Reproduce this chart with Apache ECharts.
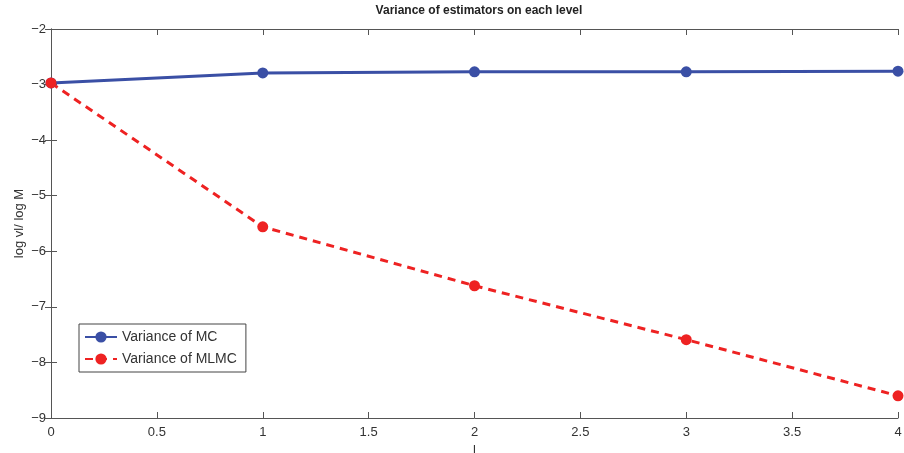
<!DOCTYPE html>
<html>
<head>
<meta charset="utf-8">
<script src="https://cdn.jsdelivr.net/npm/echarts@6/dist/echarts.min.js"></script>
<style>
  html, body { margin: 0; padding: 0; background: #fff; }
  #main { width: 904px; height: 453px; }
</style>
</head>
<body>
<div id="main"></div>
<script>
// levels l and log-variance per level
var levels = [0, 1, 2, 3, 4];
var mcVar = [-2.97, -2.79, -2.77, -2.77, -2.76];
var mlmcVar = [-2.97, -5.56, -6.62, -7.59, -8.60];

var font = 'Liberation Sans, Arial, sans-serif';
var axisCol = '#555';

function pairs(ys) {
  return levels.map(function (x, i) { return [x, ys[i]]; });
}

var myChart = echarts.init(document.getElementById('main'));
myChart.setOption({
  animation: false,
  title: {
    text: 'Variance of estimators on each level',
    left: 474, top: 0, textAlign: 'center',
    textStyle: { fontFamily: font, fontSize: 12, fontWeight: 'bold', color: '#222' }
  },
  grid: { left: 51, right: 6, top: 29, bottom: 35, outerBoundsMode: 'none' },
  legend: {
    left: 79, top: 324, orient: 'vertical',
    backgroundColor: '#fff', borderColor: '#444', borderWidth: 1, borderRadius: 0,
    padding: [6, 9, 6, 5], itemGap: 8, itemWidth: 32, itemHeight: 14,
    textStyle: { fontFamily: font, fontSize: 14, color: '#333' },
    data: ['Variance of MC', 'Variance of MLMC']
  },
  xAxis: [{
    type: 'value', min: 0, max: 4, interval: 0.5,
    name: 'l', nameLocation: 'middle', nameGap: 24,
    nameTextStyle: { fontFamily: font, fontSize: 13, color: '#333' },
    axisLine: { lineStyle: { color: axisCol } },
    axisTick: { inside: true, length: 6, lineStyle: { color: axisCol } },
    axisLabel: { fontFamily: font, fontSize: 13, color: '#333', margin: 8 },
    splitLine: { show: false }
  }, {
    type: 'value', position: 'top', min: 0, max: 4, interval: 0.5,
    axisLine: { lineStyle: { color: axisCol } },
    axisTick: { inside: true, length: 6, lineStyle: { color: axisCol } },
    axisLabel: { show: false }, splitLine: { show: false }
  }],
  yAxis: [{
    type: 'value', min: -9, max: -2, interval: 1,
    name: 'log vl/ log M', nameLocation: 'middle', nameGap: 25, nameMoveOverlap: false,
    nameTextStyle: { fontFamily: font, fontSize: 13, color: '#333' },
    axisLine: { lineStyle: { color: axisCol } },
    axisTick: { inside: true, length: 6, lineStyle: { color: axisCol } },
    axisLabel: {
      fontFamily: font, fontSize: 13, color: '#333', margin: 5,
      formatter: function (v) { return String(v).replace('-', '\u2212'); }
    },
    splitLine: { show: false }
  }, {
    type: 'value', position: 'right', min: -9, max: -2, interval: 1,
    axisLine: { lineStyle: { color: axisCol } },
    axisTick: { inside: true, length: 6, lineStyle: { color: axisCol } },
    axisLabel: { show: false }, splitLine: { show: false }
  }],
  series: [{
    name: 'Variance of MC', type: 'line',
    data: pairs(mcVar),
    symbol: 'circle', symbolSize: 11,
    itemStyle: { color: '#3a4fa5' },
    lineStyle: { color: '#3a4fa5', width: 3 }
  }, {
    name: 'Variance of MLMC', type: 'line',
    data: pairs(mlmcVar),
    symbol: 'circle', symbolSize: 11,
    itemStyle: { color: '#ee2222' },
    lineStyle: { color: '#ee2222', width: 3, type: [8, 6] }
  }]
});
</script>
</body>
</html>
